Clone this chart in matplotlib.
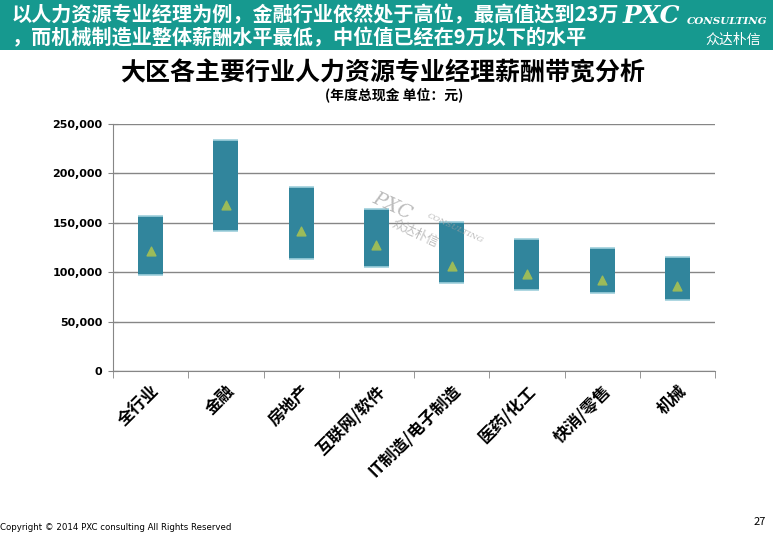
import matplotlib.pyplot as plt
from matplotlib.patches import Rectangle

plt.rcParams['font.family'] = ['Noto Sans CJK SC', 'DejaVu Sans']

# --- data ---
industries = ["全行业", "金融", "房地产", "互联网/软件", "IT制造/电子制造", "医药/化工", "快消/零售", "机械"]
low_values = [97000, 142000, 113000, 105000, 89000, 82000, 79000, 72000]
high_values = [157000, 234000, 186000, 164000, 151000, 134000, 125000, 115000]
median_values = [121000, 168000, 142000, 128000, 106000, 98000, 92000, 86000]
y_ticks = [0, 50000, 100000, 150000, 200000, 250000]

bar_color = "#31859C"
edge_color = "#9FD0DC"
median_color = "#9BBB59"
grid_color = "#868686"
header_color = "#16998F"

fig = plt.figure(figsize=(7.73, 5.34), dpi=100)

# --- header band ---
fig.patches.append(Rectangle((0, 1 - 50 / 534), 1, 50 / 534, transform=fig.transFigure,
                             facecolor=header_color, edgecolor="none", zorder=0))
fig.text(12 / 773, 1 - 15 / 534, "以人力资源专业经理为例，金融行业依然处于高位，最高值达到23万",
         color="white", fontsize=14.5, fontweight="bold", va="center", ha="left")
fig.text(12 / 773, 1 - 38 / 534, "，而机械制造业整体薪酬水平最低，中位值已经在9万以下的水平",
         color="white", fontsize=14.5, fontweight="bold", va="center", ha="left")
fig.text(623 / 773, 1 - 16 / 534, "PXC", color="white", fontsize=18, fontweight="bold",
         fontstyle="italic", family="DejaVu Serif", va="center", ha="left")
fig.text(687 / 773, 1 - 21 / 534, "CONSULTING", color="white", fontsize=7.5, fontweight="bold",
         fontstyle="italic", family="DejaVu Serif", va="center", ha="left")
fig.text(733 / 773, 1 - 40 / 534, "众达朴信", color="white", fontsize=10,
         va="center", ha="center")

# --- title ---
fig.text(383 / 773, 1 - 73 / 534, "大区各主要行业人力资源专业经理薪酬带宽分析",
         fontsize=18, fontweight="bold", ha="center", va="center")
fig.text(394 / 773, 1 - 95 / 534, "(年度总现金 单位：元)",
         fontsize=10, fontweight="bold", ha="center", va="center")

# --- chart ---
ax = fig.add_axes([113 / 773, 1 - 371 / 534, 602 / 773, 247 / 534])
x = list(range(len(industries)))
heights = [h - l for h, l in zip(high_values, low_values)]
bar_w = 1 / 3
ax.bar(x, heights, bottom=low_values, width=bar_w, color=bar_color, zorder=3)
ax.hlines(low_values, [i - bar_w / 2 for i in x], [i + bar_w / 2 for i in x],
          color=edge_color, linewidth=1.2, zorder=4)
ax.hlines(high_values, [i - bar_w / 2 for i in x], [i + bar_w / 2 for i in x],
          color=edge_color, linewidth=1.2, zorder=4)
ax.scatter(x, median_values, marker="^", s=40, color=median_color, zorder=5)

ax.set_xlim(-0.5, len(industries) - 0.5)
ax.set_ylim(0, 250000)
ax.set_yticks(y_ticks)
ax.set_yticklabels([f"{v:,}" for v in y_ticks], fontsize=8, fontweight="bold",
                   family="DejaVu Sans")
ax.yaxis.grid(True, color=grid_color, linewidth=1, zorder=0)
ax.set_xticks(x)
ax.set_xticklabels(industries, rotation=45, ha="right", va="top", rotation_mode="anchor",
                   fontsize=12, fontweight="bold")
ax.tick_params(axis="x", which="major", length=0, pad=8)
ax.set_xticks([i + 0.5 for i in range(-1, len(industries))], minor=True)
ax.tick_params(axis="x", which="minor", length=5, color=grid_color, direction="out")
ax.tick_params(axis="y", length=7, color=grid_color, direction="inout", pad=4)
for side in ["top", "right"]:
    ax.spines[side].set_visible(False)
for side in ["left", "bottom"]:
    ax.spines[side].set_color(grid_color)

# watermark
fig.text(392 / 773, 1 - 206 / 534, "PXC", color="#A0A0A0", alpha=0.7, fontsize=14,
         fontstyle="italic", rotation=-25, ha="center", va="center", family="DejaVu Serif")
fig.text(455 / 773, 1 - 228 / 534, "CONSULTING", color="#A0A0A0", alpha=0.7, fontsize=6,
         fontstyle="italic", rotation=-25, ha="center", va="center", family="DejaVu Serif")
fig.text(415 / 773, 1 - 233 / 534, "众达朴信", color="#A0A0A0", alpha=0.7, fontsize=9,
         rotation=-25, ha="center", va="center")

# --- footer ---
fig.text(0, 1 - 527 / 534, "Copyright © 2014 PXC consulting All Rights Reserved",
         fontsize=6.2, ha="left", va="center", family="DejaVu Sans")
fig.text(760 / 773, 1 - 522 / 534, "27", fontsize=8, ha="center", va="center")

fig.savefig("out.png", dpi=100)
